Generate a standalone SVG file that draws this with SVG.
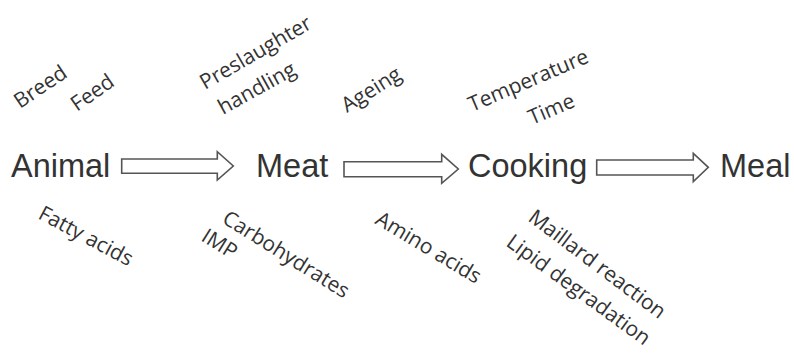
<svg xmlns="http://www.w3.org/2000/svg" width="794" height="355" viewBox="0 0 794 355">
<style>
.main{font-family:"Liberation Sans",Arial,sans-serif;font-size:32.5px;fill:#333}
.lab{font-family:"Open Sans","Noto Sans",sans-serif;font-size:21px;fill:#333}
.arr{fill:#fff;stroke:#555;stroke-width:1.6;stroke-linejoin:miter}
</style>
<rect width="794" height="355" fill="#fff"/>
<g id="animal"><text class="main" x="11" y="177">Animal</text></g>
<g id="meat"><text class="main" x="256" y="177">Meat</text></g>
<g id="cooking"><text class="main" x="468" y="177">Cooking</text></g>
<g id="meal"><text class="main" x="720" y="177">Meal</text></g>
<g id="connectors">
<path class="arr" d="M121.7,159 H217.3 V151.7 L233.3,166 L217.3,180 V173.3 H121.7 Z"/>
<path class="arr" d="M344,161.7 H441.7 V154.3 L458.3,169 L441.7,183.3 V176.7 H344 Z"/>
<path class="arr" d="M596.7,160 H693.3 V153.3 L708.3,167.3 L693.3,181.7 V175 H596.7 Z"/>
</g>
<g id="labels-top">
<text class="lab" transform="translate(20,109) rotate(-34)">Breed</text>
<text class="lab" transform="translate(77,112) rotate(-35)">Feed</text>
<text class="lab" transform="translate(205,90) rotate(-30)">Preslaughter</text>
<text class="lab" transform="translate(223,115) rotate(-29)">handling</text>
<text class="lab" transform="translate(347,113) rotate(-32)">Ageing</text>
<text class="lab" transform="translate(472,112) rotate(-23)">Temperature</text>
<text class="lab" transform="translate(532,125) rotate(-23)">Time</text>
</g>
<g id="labels-bottom">
<text class="lab" transform="translate(37,218) rotate(28)">Fatty acids</text>
<text class="lab" transform="translate(221,222) rotate(32)">Carbohydrates</text>
<text class="lab" transform="translate(200,240) rotate(32)">IMP</text>
<text class="lab" transform="translate(374,223) rotate(31)">Amino acids</text>
<text class="lab" transform="translate(527,220) rotate(37)">Maillard reaction</text>
<text class="lab" transform="translate(505,245) rotate(36)">Lipid degradation</text>
</g>
</svg>
